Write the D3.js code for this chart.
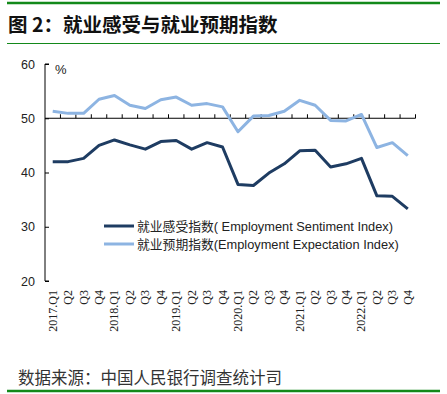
<!DOCTYPE html>
<html>
<head>
<meta charset="utf-8">
<script src="https://cdn.jsdelivr.net/npm/d3@7"></script>
<style>
  body { margin: 0; background: #fff; }
  svg { display: block; }
</style>
</head>
<body>
<div class="chart"></div>
<script>
// 2017Q1 .. 2022Q4
const years = ["2017", "2018", "2019", "2020", "2021", "2022"];
const quarters = ["Q1", "Q2", "Q3", "Q4"];
const sentiment = [42.0, 42.0, 42.6, 45.0, 46.0, 45.1, 44.3, 45.7, 45.9, 44.3, 45.5, 44.7,
                   37.8, 37.6, 39.9, 41.6, 44.0, 44.1, 41.0, 41.6, 42.6, 35.7, 35.6, 33.3];
const expectation = [51.3, 50.9, 50.9, 53.5, 54.2, 52.4, 51.8, 53.4, 53.9, 52.4, 52.7, 52.1,
                     47.5, 50.4, 50.5, 51.3, 53.3, 52.4, 49.6, 49.5, 50.7, 44.6, 45.5, 43.1];
const yTicks = [20, 30, 40, 50, 60];
const seriesNames = ["就业感受指数( Employment Sentiment Index)", "就业预期指数(Employment Expectation Index)"];

const width = 447;
const height = 394;
const green = "#13891a";
const colors = ["#1e3c62", "#8db4e2"];

const categories = [];
years.forEach(y => quarters.forEach((q, i) => categories.push(i === 0 ? y + "." + q : q)));
const idx = d3.range(categories.length);

const svg = d3.select(".chart").append("svg")
    .attr("width", width)
    .attr("height", height);

/* frame: green rules and title */
svg.append("line").attr("x1", 7).attr("x2", 440).attr("y1", 3).attr("y2", 3)
    .attr("stroke", green).attr("stroke-width", 2.5);
svg.append("line").attr("x1", 7).attr("x2", 440).attr("y1", 43.5).attr("y2", 43.5)
    .attr("stroke", green).attr("stroke-width", 1);
svg.append("line").attr("x1", 7).attr("x2", 440).attr("y1", 391).attr("y2", 391)
    .attr("stroke", green).attr("stroke-width", 2.5);

svg.append("text")
    .attr("x", 8).attr("y", 32)
    .style("font-family", "'Noto Sans CJK SC'")
    .style("font-weight", "bold")
    .style("font-size", "19.5px")
    .attr("fill", "#111")
    .text("图 2：就业感受与就业预期指数");

svg.append("text")
    .attr("x", 18).attr("y", 384)
    .style("font-family", "'Noto Sans CJK SC'")
    .style("font-size", "16.5px")
    .attr("fill", "#333")
    .text("数据来源：中国人民银行调查统计司");

/* scales */
const x = d3.scaleBand().domain(idx).range([45, 415.5]);
const y = d3.scaleLinear().domain([20, 60]).range([281, 64]);

/* y axis, ticks pointing inward */
const yAxis = d3.axisRight(y).tickValues(yTicks).tickSize(4).tickFormat("");
svg.append("g")
    .attr("transform", "translate(45,0)")
    .call(yAxis)
    .call(g => g.select(".domain").attr("d", `M4,${y(60)}H0V${y(20)}H4`));

svg.append("g").selectAll("text")
    .data(yTicks).enter()
    .append("text")
    .attr("x", 35)
    .attr("y", d => y(d) + 4.5)
    .attr("text-anchor", "end")
    .style("font-family", "'Liberation Sans', Arial")
    .style("font-size", "12.5px")
    .attr("fill", "#222")
    .text(d => d);

svg.append("text")
    .attr("x", 55).attr("y", 74)
    .style("font-family", "'Liberation Sans', Arial")
    .style("font-size", "13px")
    .attr("fill", "#222")
    .text("%");

/* x axis crosses at 50, ticks at band boundaries pointing up */
const xAxisG = svg.append("g").attr("transform", `translate(0,${y(50)})`);
xAxisG.append("line")
    .attr("x1", 45).attr("x2", 415.5)
    .attr("stroke", "#000").attr("stroke-width", 1);
xAxisG.selectAll(".tick")
    .data(idx).enter()
    .append("line")
    .attr("class", "tick")
    .attr("x1", d => x(d) + x.step())
    .attr("x2", d => x(d) + x.step())
    .attr("y1", 0).attr("y2", -4)
    .attr("stroke", "#000").attr("stroke-width", 1);

/* category labels, rotated */
svg.append("g").selectAll("text")
    .data(idx).enter()
    .append("text")
    .attr("transform", d => `translate(${x(d) + x.bandwidth() / 2 + 4},290) rotate(-90)`)
    .attr("text-anchor", "end")
    .style("font-family", "'Liberation Serif', 'Times New Roman'")
    .style("font-size", "12px")
    .attr("fill", "#222")
    .text(d => categories[d]);

/* lines */
const line = d3.line()
    .x((d, i) => x(i) + x.bandwidth() / 2)
    .y(d => y(d));

[sentiment, expectation].forEach((values, k) => {
    svg.append("path")
        .attr("d", line(values))
        .attr("fill", "none")
        .attr("stroke", colors[k])
        .attr("stroke-width", 3)
        .attr("stroke-linejoin", "round");
});

/* legend */
const legend = svg.append("g");
seriesNames.forEach((name, k) => {
    const ly = 226 + k * 18;
    legend.append("line")
        .attr("x1", 104).attr("x2", 134)
        .attr("y1", ly).attr("y2", ly)
        .attr("stroke", colors[k]).attr("stroke-width", 3);
    legend.append("text")
        .attr("x", 137).attr("y", ly + 4.5)
        .style("font-family", "'Liberation Sans', Arial, 'Noto Sans CJK SC'")
        .style("font-size", "12.8px")
        .attr("fill", "#222")
        .text(name);
});
</script>
</body>
</html>
